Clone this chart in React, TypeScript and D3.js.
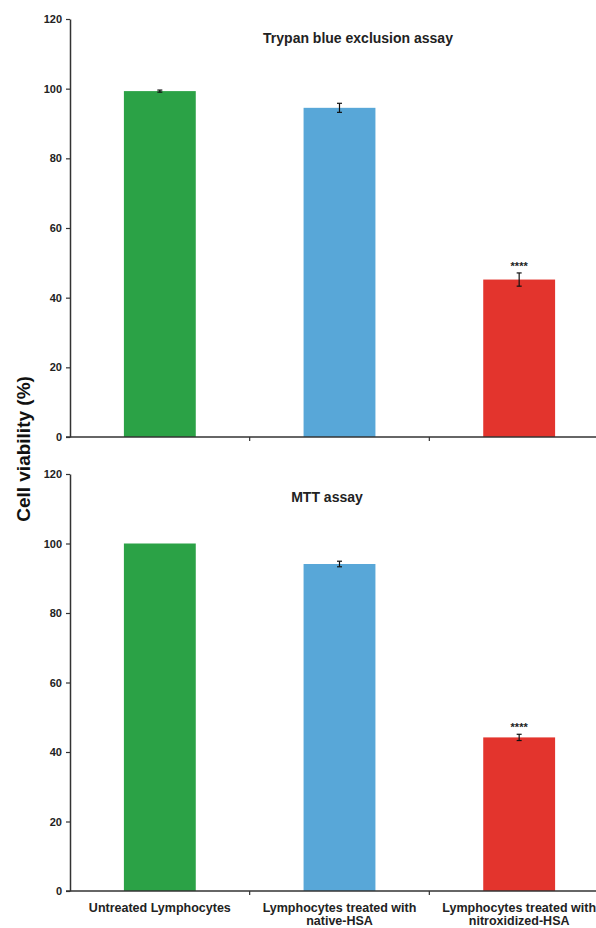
import React, { useEffect, useRef } from "react";
import * as d3 from "d3";

const categories = ["untreated", "native", "nitroxidized"];
const categoryLabels = [
  ["Untreated Lymphocytes"],
  ["Lymphocytes treated with", "native-HSA"],
  ["Lymphocytes treated with", "nitroxidized-HSA"],
];
const colors = ["#2ba246", "#58a7d8", "#e3342d"];

const trypanValues = [99.3, 94.5, 45.2];
const trypanErrors = [0.3, 1.3, 1.9];
const mttValues = [100, 94.1, 44.2];
const mttErrors = [0, 0.8, 0.9];
const significance = ["", "", "****"];
const yTicks = [0, 20, 40, 60, 80, 100, 120];

const panels = [
  { title: "Trypan blue exclusion assay", values: trypanValues, errors: trypanErrors, top: 19, bottom: 437, titleX: 358, titleY: 43 },
  { title: "MTT assay", values: mttValues, errors: mttErrors, top: 474, bottom: 891, titleX: 327, titleY: 502 },
];

const App = () => {
  const ref = useRef<SVGSVGElement>(null);

  useEffect(() => {
    const svg = d3.select(ref.current);
    svg.selectAll("*").remove();
    const font = "'Liberation Sans', Arial, sans-serif";

    const x = d3
      .scaleBand()
      .domain(categories)
      .range([70, 609])
      .paddingInner(0.6)
      .paddingOuter(0.3);
    const step = x.step();

    panels.forEach((p, pi) => {
      const y = d3.scaleLinear().domain([0, 120]).range([p.bottom, p.top]);
      const g = svg.append("g");

      // bars
      g.selectAll("rect.bar")
        .data(p.values)
        .enter()
        .append("rect")
        .attr("class", "bar")
        .attr("x", (d, i) => x(categories[i])!)
        .attr("width", x.bandwidth())
        .attr("y", d => y(d))
        .attr("height", d => y(0) - y(d))
        .attr("fill", (d, i) => colors[i]);

      // error bars
      p.values.forEach((v, i) => {
        const e = p.errors[i];
        const cx = x(categories[i])! + x.bandwidth() / 2;
        if (e > 0) {
          g.append("line")
            .attr("x1", cx).attr("x2", cx)
            .attr("y1", y(v + e)).attr("y2", y(v - e))
            .attr("stroke", "#111").attr("stroke-width", 1.2);
          [v + e, v - e].forEach(t => {
            g.append("line")
              .attr("x1", cx - 2.5).attr("x2", cx + 2.5)
              .attr("y1", y(t)).attr("y2", y(t))
              .attr("stroke", "#111").attr("stroke-width", 1.2);
          });
        }
        if (significance[i]) {
          g.append("text")
            .attr("x", cx)
            .attr("y", y(v + e) - 3)
            .attr("text-anchor", "middle")
            .attr("font-family", font)
            .attr("font-weight", "bold")
            .attr("font-size", 11)
            .attr("fill", "#222")
            .text(significance[i]);
        }
      });

      // y axis
      const yAxis = g
        .append("g")
        .attr("transform", "translate(70,0)")
        .call(d3.axisLeft(y).tickValues(yTicks).tickSize(4).tickSizeOuter(0).tickPadding(4));
      yAxis.select(".domain").attr("stroke", "#333").attr("stroke-width", 1.5);
      yAxis.selectAll(".tick line").attr("stroke", "#333").attr("stroke-width", 1.2);
      yAxis
        .selectAll(".tick text")
        .attr("font-family", font)
        .attr("font-weight", "bold")
        .attr("font-size", 11)
        .attr("fill", "#222");

      // x axis
      const axisY = y(0);
      g.append("line")
        .attr("x1", 66).attr("x2", 596)
        .attr("y1", axisY).attr("y2", axisY)
        .attr("stroke", "#333").attr("stroke-width", 1.5);
      categories.slice(1).forEach(c => {
        const tx = x(c)! - (step - x.bandwidth()) / 2;
        g.append("line")
          .attr("x1", tx).attr("x2", tx)
          .attr("y1", axisY).attr("y2", axisY + 4)
          .attr("stroke", "#333").attr("stroke-width", 1.2);
      });

      // title
      g.append("text")
        .attr("x", p.titleX)
        .attr("y", p.titleY)
        .attr("text-anchor", "middle")
        .attr("font-family", font)
        .attr("font-weight", "bold")
        .attr("font-size", 14)
        .attr("fill", "#222")
        .text(p.title);

      // category labels only under the bottom panel
      if (pi === panels.length - 1) {
        categoryLabels.forEach((lines, i) => {
          const cx = x(categories[i])! + x.bandwidth() / 2;
          lines.forEach((line, li) => {
            g.append("text")
              .attr("x", cx)
              .attr("y", axisY + 21 + li * 13)
              .attr("text-anchor", "middle")
              .attr("font-family", font)
              .attr("font-weight", "bold")
              .attr("font-size", 12.5)
              .attr("fill", "#222")
              .text(line);
          });
        });
      }
    });

    // y axis title
    svg.append("text")
      .attr("transform", "translate(30,449) rotate(-90)")
      .attr("text-anchor", "middle")
      .attr("font-family", font)
      .attr("font-weight", "bold")
      .attr("font-size", 19)
      .attr("fill", "#111")
      .text("Cell viability (%)");
  }, []);

  return (
    <svg
      ref={ref}
      width={596}
      height={928}
      style={{ position: "absolute", left: 0, top: 0, background: "#fff" }}
    />
  );
};

export default App;
